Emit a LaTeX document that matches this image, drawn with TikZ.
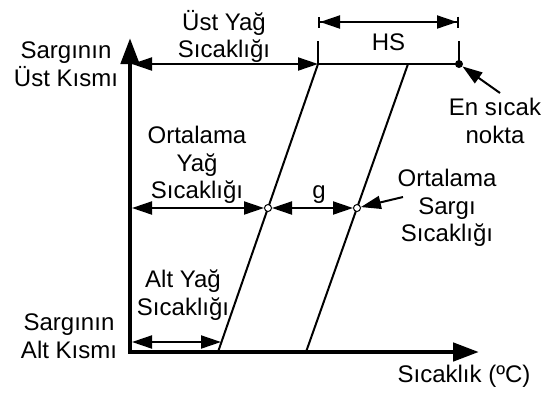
\documentclass[tikz,border=0pt]{standalone}
\usepackage{fontspec}
\setmainfont{Liberation Sans}
\usetikzlibrary{arrows.meta}
\begin{document}
\begin{tikzpicture}[x=1pt,y=-1pt,
  lbl/.style={align=center, inner sep=0pt, font=\fontsize{24}{27.5}\selectfont},
  thinline/.style={line width=2pt},
  dimarrow/.style={thinline, {Triangle[length=20pt,width=13pt]}-{Triangle[length=20pt,width=13pt]}},
  hsarrow/.style={thinline, {Bar[width=11pt]Triangle[length=20pt,width=13pt]}-{Triangle[length=20pt,width=13pt]Bar[width=11pt]}},
  axisline/.style={line width=4.7pt, {Triangle[length=26pt,width=18pt]}-{Triangle[length=26pt,width=18pt]}},
  pointer/.style={thinline, -{Triangle[length=20pt,width=13pt]}},
  probe/.style={circle, draw, fill=white, line width=1pt, inner sep=0pt, minimum size=7pt},
  hotdot/.style={circle, fill=black, inner sep=0pt, minimum size=8pt},
]
\useasboundingbox (0,0) rectangle (549,392);

% axes
\coordinate (ytip) at (130,38);
\coordinate (xtip) at (479,352);
\draw[axisline] (ytip) |- (xtip);

% temperature profiles: oil and winding
\coordinate (oilb) at (218,352);
\coordinate (oilt) at (318,64);
\coordinate (windb) at (306,352);
\coordinate (windt) at (408,64);
\coordinate (hs) at (459,64);
\draw[thinline] (oilb) -- (oilt);
\draw[thinline] (windb) -- (windt);
\draw[thinline] (oilt) -- (hs);

% hot-spot gradient marks
\coordinate (hsl) at (318,41);
\coordinate (hsr) at (459,41);
\draw[thinline] (hsl) -- (oilt);
\draw[thinline] (hsr) -- (hs);

% measurement points
\node[probe] (oilm) at (268,208) {};
\node[probe] (windm) at (357,208) {};
\node[hotdot] (hot) at (hs) {};

% dimension arrows
\coordinate (topl) at (132,64);
\coordinate (midl) at (132,208);
\coordinate (botl) at (132,342);
\coordinate (botr) at (221,342);
\coordinate (hsal) at (318,22);
\coordinate (hsar) at (459,22);
\draw[dimarrow] (topl) -- (oilt);
\draw[dimarrow] (midl) -- (oilm);
\draw[dimarrow] (oilm) -- (windm);
\draw[dimarrow] (botl) -- (botr);
\draw[hsarrow] (hsal) -- (hsar);

% pointers
\coordinate (hotp) at (500,93);
\coordinate (windp) at (403,197);
\draw[pointer] (hotp) -- (hot);
\draw[pointer] (windp) -- (windm);

% labels
\node[lbl] (lUst) at (224,36.5) {Üst Yağ\\Sıcaklığı};
\node[lbl] (lSUst) at (66,64) {Sargının\\Üst Kısmı};
\node[lbl] (lOrt) at (197,165) {Ortalama\\Yağ\\Sıcaklığı};
\node[lbl] (lAlt) at (183,295) {Alt Yağ\\Sıcaklığı};
\node[lbl] (lSAlt) at (69,336) {Sargının\\Alt Kısmı};
\node[lbl, anchor=base] (lT) at (464,382) {Sıcaklık (ºC)};
\node[lbl, anchor=base] (lHS) at (388.5,50) {HS};
\node[lbl, anchor=base] (lg) at (319,198) {g};
\node[lbl] (lHot) at (495,121) {En sıcak\\nokta};
\node[lbl] (lSarg) at (447,208) {Ortalama\\Sargı\\Sıcaklığı};
\end{tikzpicture}
\end{document}
